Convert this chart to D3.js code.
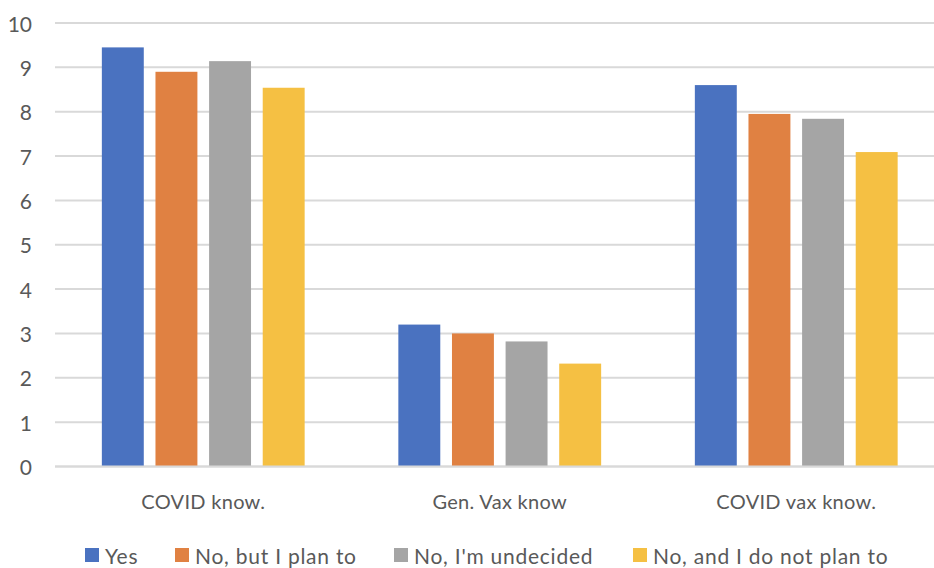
<!DOCTYPE html>
<html>
<head>
<meta charset="utf-8">
<script src="https://cdn.jsdelivr.net/npm/d3@7"></script>
<style>
  html, body { margin: 0; padding: 0; background: #fff; }
  svg { display: block; }
  text { font-family: Lato, "Open Sans", sans-serif; fill: #595959; }
</style>
</head>
<body>
<svg id="chart" width="934" height="568"></svg>
<script>
// Knowledge scores by vaccination intention
const categories = ["COVID know.", "Gen. Vax know", "COVID vax know."];
const seriesNames = ["Yes", "No, but I plan to", "No, I'm undecided", "No, and I do not plan to"];
const yes        = [9.45, 3.2, 8.6];
const planTo     = [8.9, 3.0, 7.95];
const undecided  = [9.14, 2.82, 7.84];
const notPlan    = [8.54, 2.32, 7.09];
const yTicks = [0, 1, 2, 3, 4, 5, 6, 7, 8, 9, 10];
const colors = ["#4a72c0", "#e08142", "#a5a5a5", "#f5c043"];

const seriesValues = [yes, planTo, undecided, notPlan];

const svg = d3.select("#chart");
const plotLeft = 55, plotRight = 944.5, plotTop = 23, plotBottom = 466.5;

const x0 = d3.scaleBand().domain(categories).range([plotLeft, plotRight]).paddingInner(0).paddingOuter(0);
const bw = x0.bandwidth();
const x1 = d3.scaleBand().domain(seriesNames)
  .range([bw * 0.158, bw * (1 - 0.158)])
  .paddingInner(0.218).paddingOuter(0);
const y = d3.scaleLinear().domain([0, 10]).range([plotBottom, plotTop]);

// gridlines
svg.append("g").selectAll("line").data(yTicks).join("line")
  .attr("x1", plotLeft).attr("x2", plotRight)
  .attr("y1", d => y(d)).attr("y2", d => y(d))
  .attr("stroke", "#d9d9d9").attr("stroke-width", 2);

// y tick labels
svg.append("g").selectAll("text").data(yTicks).join("text")
  .attr("x", 32).attr("y", d => y(d))
  .attr("text-anchor", "end").attr("dominant-baseline", "central")
  .style("font-size", "21px")
  .text(d => d);

// bars
const groups = svg.append("g").selectAll("g").data(categories).join("g")
  .attr("transform", c => `translate(${x0(c)},0)`);
groups.selectAll("rect")
  .data((c, ci) => seriesNames.map((s, si) => ({ s, si, v: seriesValues[si][ci] })))
  .join("rect")
  .attr("x", d => x1(d.s))
  .attr("width", x1.bandwidth())
  .attr("y", d => y(d.v))
  .attr("height", d => y(0) - y(d.v))
  .attr("fill", d => colors[d.si]);

// baseline
svg.append("line").attr("x1", plotLeft).attr("x2", plotRight)
  .attr("y1", y(0)).attr("y2", y(0))
  .attr("stroke", "#d9d9d9").attr("stroke-width", 2);

// category labels
svg.append("g").selectAll("text").data(categories).join("text")
  .attr("x", c => x0(c) + bw / 2).attr("y", 501)
  .attr("text-anchor", "middle").attr("dominant-baseline", "central")
  .style("font-size", "20px").style("letter-spacing", "0.3px")
  .text(c => c);

// legend
const legendX = [85, 175, 394, 633];
const legend = svg.append("g").selectAll("g").data(seriesNames).join("g")
  .attr("transform", (d, i) => `translate(${legendX[i]},555)`);
legend.append("rect").attr("x", 0).attr("y", -7).attr("width", 14).attr("height", 14)
  .attr("fill", (d, i) => colors[i]);
legend.append("text").attr("x", 20).attr("y", 0)
  .attr("dominant-baseline", "central")
  .style("font-size", "21px").style("letter-spacing", "0.75px")
  .text(d => d);
</script>
</body>
</html>
